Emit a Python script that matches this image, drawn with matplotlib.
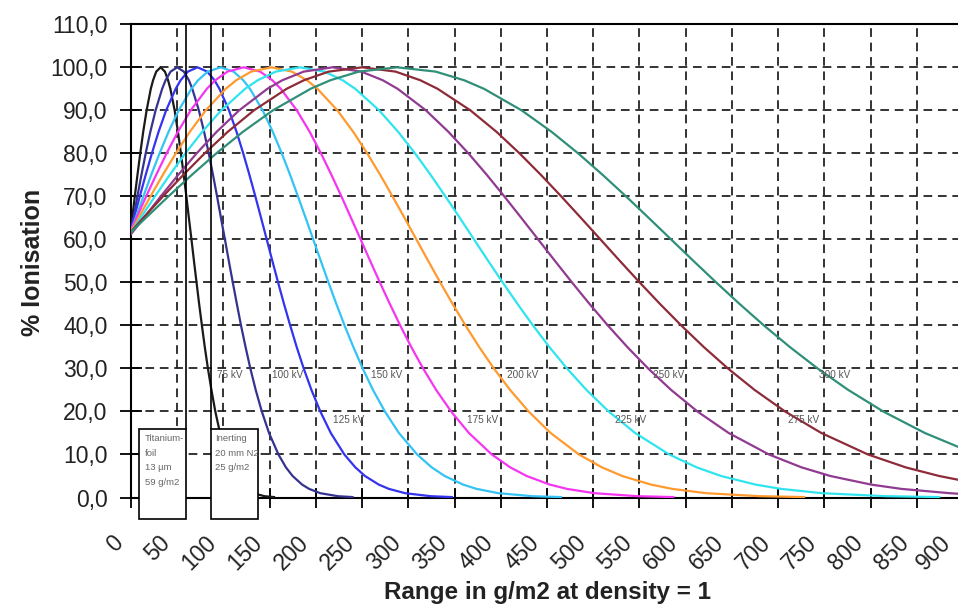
import matplotlib
matplotlib.use('Agg')
import matplotlib.pyplot as plt
import matplotlib.transforms as mtransforms
from matplotlib.patches import Rectangle

plt.rcParams['font.family'] = ['Liberation Sans', 'DejaVu Sans']

# depth curves (g/m2, % ionisation)
x_75 = [0, 1.4, 4.1, 7.0, 10.0, 13.2, 16.9, 21.4, 23.9, 27.3, 32, 36.7, 40.1, 42.6, 47.2, 50.8, 54.0, 57.0,
        59.9, 62.6, 65.4, 68.1, 70.9, 73.7, 76.7, 79.8, 83.2, 87.0, 91.2, 96.3, 102.8, 108.1, 112.8, 119.4,
        124.3, 132.2, 144.5, 154.7]
y_75 = [62.5, 65, 70, 75, 80, 85, 90, 95, 97, 99, 100, 99, 97, 95, 90, 85, 80, 75, 70, 65, 60, 55, 50, 45,
        40, 35, 30, 25, 20, 15, 10, 7, 5, 3, 2, 1, 0.3, 0.1]

x_100 = [0, 2.7, 6.9, 11.3, 15.9, 20.9, 26.6, 33.7, 37.4, 42.8, 50, 57.2, 62.6, 66.3, 73.4, 79.1, 84.1, 88.7,
         93.1, 97.3, 101.6, 105.8, 110.1, 114.5, 119.0, 123.9, 129.1, 134.9, 141.5, 149.3, 159.5, 167.6,
         174.8, 185.1, 192.7, 204.8, 223.9, 239.6]
y_100 = [61.9, 65, 70, 75, 80, 85, 90, 95, 97, 99, 100, 99, 97, 95, 90, 85, 80, 75, 70, 65, 60, 55, 50, 45,
         40, 35, 30, 25, 20, 15, 10, 7, 5, 3, 2, 1, 0.3, 0.1]

x_125 = [0, 3.3, 9.5, 15.9, 22.6, 29.8, 38.0, 48.3, 53.7, 61.5, 72, 82.5, 90.3, 95.7, 106.0, 114.2, 121.4,
         128.1, 134.5, 140.7, 146.8, 152.9, 159.1, 165.5, 172.2, 179.2, 186.8, 195.2, 204.8, 216.1, 230.8,
         242.7, 253.1, 268.0, 279.0, 296.6, 324.3, 347.1]
y_125 = [62.3, 65, 70, 75, 80, 85, 90, 95, 97, 99, 100, 99, 97, 95, 90, 85, 80, 75, 70, 65, 60, 55, 50, 45,
         40, 35, 30, 25, 20, 15, 10, 7, 5, 3, 2, 1, 0.3, 0.1]

x_150 = [0, 5.1, 13.4, 21.9, 30.9, 40.6, 51.6, 65.3, 72.6, 83.0, 97, 111.0, 121.4, 128.7, 142.4, 153.4,
         163.1, 172.1, 180.6, 188.9, 197.1, 205.3, 213.6, 222.1, 231.0, 240.5, 250.6, 261.8, 274.6, 289.8,
         309.5, 325.3, 339.3, 359.2, 373.9, 397.5, 434.5, 465.0]
y_150 = [61.9, 65, 70, 75, 80, 85, 90, 95, 97, 99, 100, 99, 97, 95, 90, 85, 80, 75, 70, 65, 60, 55, 50, 45,
         40, 35, 30, 25, 20, 15, 10, 7, 5, 3, 2, 1, 0.3, 0.1]

x_175 = [0, 6.0, 16.4, 27.2, 38.5, 50.7, 64.6, 82.0, 91.2, 104.3, 122, 139.7, 152.9, 162.0, 179.4, 193.3,
         205.5, 216.8, 227.6, 238.0, 248.4, 258.7, 269.2, 280.0, 291.2, 303.1, 316.0, 330.1, 346.3, 365.5,
         390.3, 410.3, 428.0, 453.0, 471.6, 501.4, 548.1, 586.6]
y_175 = [62.1, 65, 70, 75, 80, 85, 90, 95, 97, 99, 100, 99, 97, 95, 90, 85, 80, 75, 70, 65, 60, 55, 50, 45,
         40, 35, 30, 25, 20, 15, 10, 7, 5, 3, 2, 1, 0.3, 0.1]

x_200 = [0, 8.1, 21.1, 34.4, 48.5, 63.6, 80.9, 102.4, 113.8, 130.0, 152, 174.0, 190.3, 201.7, 223.2, 240.4,
         255.5, 269.6, 282.9, 295.9, 308.7, 321.5, 334.5, 347.9, 361.8, 376.6, 392.5, 410.1, 430.1, 453.9,
         484.6, 509.5, 531.4, 562.5, 585.6, 622.4, 680.4, 728.1]
y_200 = [61.8, 65, 70, 75, 80, 85, 90, 95, 97, 99, 100, 99, 97, 95, 90, 85, 80, 75, 70, 65, 60, 55, 50, 45,
         40, 35, 30, 25, 20, 15, 10, 7, 5, 3, 2, 1, 0.3, 0.1]

x_225 = [0, 10.4, 25.9, 41.9, 58.8, 77.0, 97.6, 123.4, 137.1, 156.6, 183, 209.4, 228.9, 242.6, 268.4, 289.0,
         307.3, 324.1, 340.1, 355.7, 371.0, 386.4, 402.0, 418.1, 434.8, 452.5, 471.6, 492.7, 516.7, 545.3,
         582.2, 612.0, 638.3, 675.6, 703.3, 747.5, 817.0, 874.3]
y_225 = [61.6, 65, 70, 75, 80, 85, 90, 95, 97, 99, 100, 99, 97, 95, 90, 85, 80, 75, 70, 65, 60, 55, 50, 45,
         40, 35, 30, 25, 20, 15, 10, 7, 5, 3, 2, 1, 0.3, 0.1]

x_250 = [0, 13.8, 32.2, 51.1, 71.0, 92.6, 117.0, 147.5, 163.7, 186.8, 218, 249.2, 272.3, 288.5, 319.0,
         343.4, 365.0, 384.9, 403.8, 422.2, 440.4, 458.6, 477.0, 496.0, 515.8, 536.8, 559.4, 584.3, 612.7,
         646.5, 690.1, 725.4, 756.5, 800.6, 833.4, 885.7, 900]
y_250 = [61.2, 65, 70, 75, 80, 85, 90, 95, 97, 99, 100, 99, 97, 95, 90, 85, 80, 75, 70, 65, 60, 55, 50, 45,
         40, 35, 30, 25, 20, 15, 10, 7, 5, 3, 2, 1, 0.8]

x_275 = [0, 13.3, 34.6, 56.6, 79.7, 104.6, 133.0, 168.3, 187.1, 213.8, 250, 286.2, 312.9, 331.7, 367.1,
         395.4, 420.3, 443.4, 465.4, 486.7, 507.8, 528.8, 550.2, 572.2, 595.2, 619.5, 645.7, 674.6, 707.5,
         746.7, 797.2, 838.1, 874.2, 900]
y_275 = [61.8, 65, 70, 75, 80, 85, 90, 95, 97, 99, 100, 99, 97, 95, 90, 85, 80, 75, 70, 65, 60, 55, 50, 45,
         40, 35, 30, 25, 20, 15, 10, 7, 5, 3.9]

x_300 = [0, 16.0, 40.5, 65.8, 92.3, 121.0, 153.5, 194.2, 215.7, 246.5, 288, 329.6, 360.3, 381.9, 422.5,
         455.0, 483.7, 510.2, 535.5, 560.0, 584.2, 608.4, 633.0, 658.3, 684.6, 712.6, 742.7, 775.9, 813.7,
         858.7, 900]
y_300 = [61.7, 65, 70, 75, 80, 85, 90, 95, 97, 99, 100, 99, 97, 95, 90, 85, 80, 75, 70, 65, 60, 55, 50, 45,
         40, 35, 30, 25, 20, 15, 11.3]

kv_names = ['75 kV', '100 kV', '125 kV', '150 kV', '175 kV', '200 kV', '225 kV', '250 kV', '275 kV', '300 kV']

x_ticks = list(range(0, 901, 50))
y_ticks = list(range(0, 111, 10))

foil_text = ['Titanium-', 'foil', '13 µm', '59 g/m2']
inert_text = ['Inerting', '20 mm N2', '25 g/m2']

xs_all = [x_75, x_100, x_125, x_150, x_175, x_200, x_225, x_250, x_275, x_300]
ys_all = [y_75, y_100, y_125, y_150, y_175, y_200, y_225, y_250, y_275, y_300]
colors = ['#1a1a1a', '#35338f', '#3333f0', '#33c4f5', '#f535f0', '#ff9a30',
          '#2fe4ee', '#913a92', '#8e2b38', '#2f8f78']

# where the kV labels sit
lab_pos = [(107, 28.5), (169, 28.5), (235, 18.0), (277, 28.5), (380, 18.0),
           (424, 28.5), (540, 18.0), (582, 28.5), (728, 18.0), (761, 28.5)]

fig = plt.figure(figsize=(9.58, 6.08), dpi=100)
ax = fig.add_axes([131 / 958, 110.5 / 608, 832 / 958, 473.2 / 608])

for xs, ys, c in zip(xs_all, ys_all, colors):
    ax.plot(xs, ys, color=c, lw=1.6, zorder=3, solid_joinstyle='round')

for (lx, ly), name in zip(lab_pos, kv_names):
    ax.text(lx, ly, name, fontsize=7.2, color='#555555', ha='center', va='center', zorder=4)

# foil / inerting boxes
foil_x0, foil_x1 = 8.6, 59.5
inert_x0, inert_x1 = 86.2, 137.3
box_bot, box_top = -5.0, 15.9
for x0, x1 in [(foil_x0, foil_x1), (inert_x0, inert_x1)]:
    ax.add_patch(Rectangle((x0, box_bot), x1 - x0, box_top - box_bot, facecolor='white',
                           edgecolor='black', lw=1.2, zorder=6, clip_on=False))
ax.plot([foil_x1, foil_x1], [box_top, 110], color='black', lw=1.2, zorder=5)
ax.plot([inert_x0, inert_x0], [box_top, 110], color='black', lw=1.2, zorder=5)

line_y = [13.8, 10.3, 6.9, 3.4]
for t, yy in zip(foil_text, line_y):
    ax.text(foil_x0 + 6.5, yy, t, fontsize=6.8, color='#666666', va='center', zorder=7)
for t, yy in zip(inert_text, line_y):
    ax.text(inert_x0 + 4.5, yy, t, fontsize=6.8, color='#666666', va='center', zorder=7)

ax.set_xlim(0, 900)
ax.set_ylim(0, 110)
ax.set_xticks(x_ticks)
ax.set_xticklabels([str(v) for v in x_ticks], rotation=45, ha='right', va='top')
ax.set_yticks(y_ticks)
ax.set_yticklabels([('%.1f' % v).replace('.', ',') for v in y_ticks])

ax.tick_params(axis='x', direction='inout', length=14, width=1.3, pad=17,
               labelsize=16.5, labelcolor='#222222')
ax.tick_params(axis='y', direction='inout', length=16, width=1.3, pad=9,
               labelsize=16.5, labelcolor='#222222')
offset = mtransforms.ScaledTranslation(-3 / 100, 0, fig.dpi_scale_trans)
last_offset = mtransforms.ScaledTranslation(-8 / 100, 0, fig.dpi_scale_trans)
xlabels = ax.get_xticklabels()
for lbl in xlabels[:-1]:
    lbl.set_transform(lbl.get_transform() + offset)
xlabels[-1].set_transform(xlabels[-1].get_transform() + last_offset)

ax.grid(True, color='#1a1a1a', linestyle=(0, (5, 3.3)), linewidth=1.25)
for s in ['left', 'bottom', 'top']:
    ax.spines[s].set_linewidth(1.5)
    ax.spines[s].set_color('black')
ax.spines['right'].set_visible(False)

fig.text(547 / 958, 1 - 593 / 608, 'Range in g/m2 at density = 1', ha='center', va='center',
         fontsize=17.5, fontweight='bold', color='#222222')
fig.text(33 / 958, 1 - 262 / 608, '% Ionisation', rotation=90, ha='center', va='center',
         fontsize=18, fontweight='bold', color='#222222')

fig.savefig('out.png', dpi=100)
